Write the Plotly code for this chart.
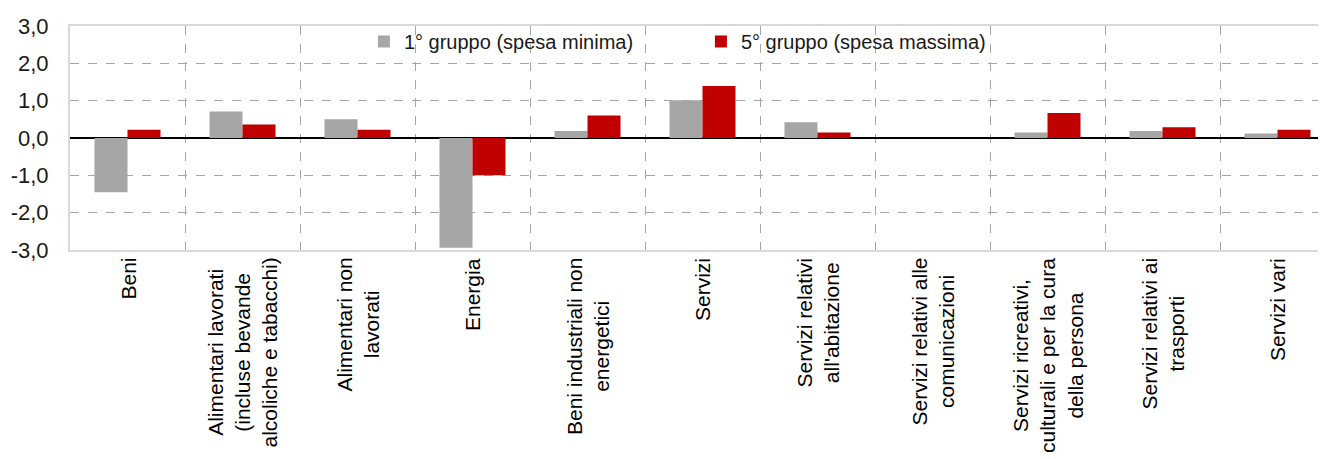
import plotly.graph_objects as go

categories = [
    "Beni",
    "Alimentari lavorati (incluse bevande alcoliche e tabacchi)",
    "Alimentari non lavorati",
    "Energia",
    "Beni industriali non energetici",
    "Servizi",
    "Servizi relativi all'abitazione",
    "Servizi relativi alle comunicazioni",
    "Servizi ricreativi, culturali e per la cura della persona",
    "Servizi relativi ai trasporti",
    "Servizi vari",
]
tick_labels = [
    "Beni",
    "Alimentari lavorati<br>(incluse bevande<br>alcoliche e tabacchi)",
    "Alimentari non<br>lavorati",
    "Energia",
    "Beni industriali non<br>energetici",
    "Servizi",
    "Servizi relativi<br>all'abitazione",
    "Servizi relativi alle<br>comunicazioni",
    "Servizi ricreativi,<br>culturali e per la cura<br>della persona",
    "Servizi relativi ai<br>trasporti",
    "Servizi vari",
]
series1_name = "1° gruppo (spesa minima)"
series5_name = "5° gruppo (spesa massima)"
gruppo1 = [-1.45, 0.71, 0.50, -2.94, 0.19, 1.01, 0.42, 0.0, 0.15, 0.19, 0.12]
gruppo5 = [0.22, 0.36, 0.22, -1.00, 0.60, 1.39, 0.15, 0.0, 0.67, 0.29, 0.22]
y_ticks = [-3, -2, -1, 0, 1, 2, 3]
y_tick_text = ["-3,0", "-2,0", "-1,0", "0,0", "1,0", "2,0", "3,0"]

FONT = "Liberation Sans, Arial, sans-serif"

fig = go.Figure()
fig.add_trace(go.Bar(x=categories, y=gruppo1, name=series1_name,
                     marker=dict(color="#a6a6a6", line=dict(width=0))))
fig.add_trace(go.Bar(x=categories, y=gruppo5, name=series5_name,
                     marker=dict(color="#c00000", line=dict(width=0))))

for cat, lab in zip(categories, tick_labels):
    fig.add_annotation(x=cat, y=0, xref="x", yref="paper", text=lab,
                       textangle=-90, xanchor="center", yanchor="top", yshift=-6,
                       align="center", showarrow=False,
                       font=dict(family=FONT, size=21, color="#000000"))

n = len(categories)
fig.update_layout(
    width=1318, height=451,
    margin=dict(l=62, r=0, t=18, b=209, autoexpand=False),
    paper_bgcolor="white", plot_bgcolor="white",
    barmode="group", bargap=0.426, bargroupgap=0,
    showlegend=True,
    legend=dict(orientation="h", x=0.234, xanchor="left", y=1.018, yanchor="top",
                bgcolor="rgba(0,0,0,0)", entrywidth=292, entrywidthmode="pixels",
                font=dict(family=FONT, size=20, color="#1a1a1a"),
                itemclick=False),
    font=dict(family=FONT, size=20, color="#000000"),
)
fig.update_xaxes(
    type="category", range=[-0.5, n - 0.5 - 9 / 115],
    showticklabels=False, ticks="",
    tickson="boundaries", showgrid=True, gridcolor="#a6a6a6", gridwidth=1, griddash="dash",
    showline=True, linecolor="#d9d9d9", linewidth=2, mirror=True,
    zeroline=False, automargin=False,
)
fig.update_yaxes(
    range=[-3, 3], tickmode="array", tickvals=y_ticks, ticktext=y_tick_text,
    showgrid=True, gridcolor="#a6a6a6", gridwidth=1, griddash="dash",
    zeroline=True, zerolinecolor="#000000", zerolinewidth=2,
    showline=True, linecolor="#d9d9d9", linewidth=2,
    ticks="", ticklabelstandoff=15,
    tickfont=dict(family=FONT, size=22, color="#1a1a1a"),
    automargin=False,
)

fig.write_html("out.html")
